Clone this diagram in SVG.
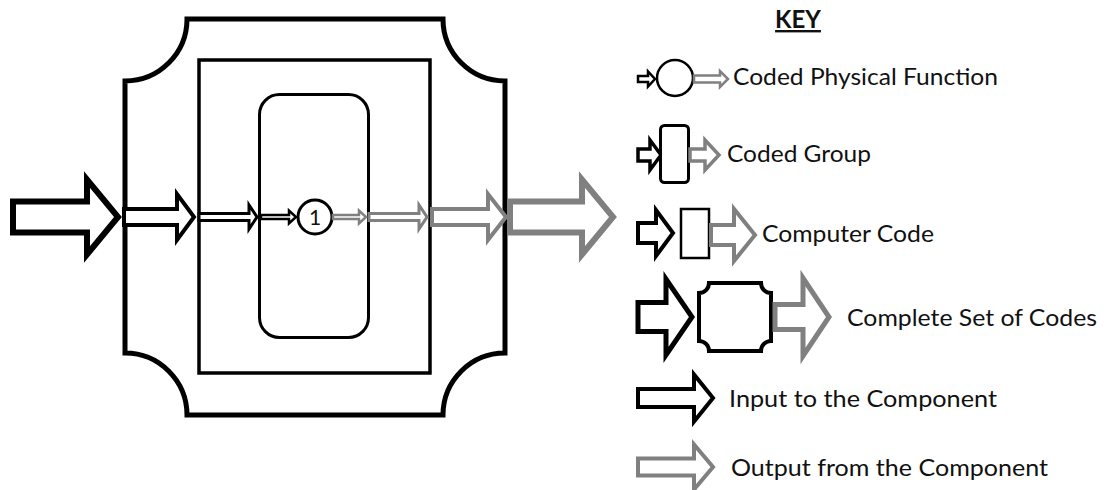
<svg xmlns="http://www.w3.org/2000/svg" width="1104" height="490" viewBox="0 0 1104 490">
  <style>
    .frame { fill: none; stroke: #000; stroke-linejoin: miter; }
    .in { fill: #fff; stroke: #000; stroke-linejoin: miter; stroke-miterlimit: 10; }
    .out { fill: #fff; stroke: #808080; stroke-linejoin: miter; stroke-miterlimit: 10; }
    .label { font-family: Lato, "Liberation Sans", sans-serif; font-size: 23px; fill: #111; }
    .key { font-family: Lato, "Liberation Sans", sans-serif; font-size: 24px; font-weight: bold; fill: #111; text-decoration: underline; }
  </style>

  <!-- component diagram -->
  <g id="complete-set">
    <path class="frame" stroke-width="5" d="M187,19 H443 A62,62 0 0 0 505,81 V353 A62,62 0 0 0 443,415 H187 A62,62 0 0 0 125,353 V81 A62,62 0 0 0 187,19 Z"/>
  </g>
  <g id="computer-code">
    <rect class="frame" stroke-width="3.5" x="199" y="60" width="231" height="313"/>
  </g>
  <g id="coded-group">
    <rect class="frame" stroke-width="3" x="259.5" y="94.5" width="109" height="243" rx="20"/>
  </g>
  <g id="function-1">
    <circle cx="315" cy="217" r="17" fill="#fff" stroke="#000" stroke-width="3"/>
    <text x="315" y="224.5" text-anchor="middle" font-family="Lato, 'Liberation Sans', sans-serif" font-size="21" fill="#111">1</text>
  </g>

  <g id="connectors">
    <!-- inputs, narrowing inward -->
    <path class="in" stroke-width="6" d="M13,201.5 H87 V179.5 L118,217 L87,254.5 V232.5 H13 Z"/>
    <path class="in" stroke-width="4" d="M124,209 H177 V194 L194,217 L177,240 V225 H124 Z"/>
    <path class="in" stroke-width="3" d="M199,213.5 H249 V205 L257,217 L249,229 V220.5 H199 Z"/>
    <path class="in" stroke-width="2.5" d="M261,215 H289 V210.5 L296,217 L289,223.5 V219 H261 Z"/>
    <!-- outputs, widening outward -->
    <path class="out" stroke-width="2.5" d="M333,215 H359 V210.5 L366,217 L359,223.5 V219 H333 Z"/>
    <path class="out" stroke-width="3" d="M369,213.5 H419 V205 L427,217 L419,229 V220.5 H369 Z"/>
    <path class="out" stroke-width="4" d="M432,209 H488 V194 L506,217 L488,240 V225 H432 Z"/>
    <path class="out" stroke-width="6" d="M510,201.5 H582 V179.5 L613,217 L582,254.5 V232.5 H510 Z"/>
  </g>

  <!-- key -->
  <g id="key-title">
    <text class="key" x="798" y="28" text-anchor="middle">KEY</text>
  </g>

  <g id="key-function">
    <path class="in" stroke-width="2.5" d="M638,76 H648 V71.5 L655,79 L648,86.5 V82 H638 Z"/>
    <circle cx="675" cy="78" r="18" fill="#fff" stroke="#000" stroke-width="2.5"/>
    <path class="out" stroke-width="2.5" d="M694,75.5 H720 V71 L728,79 L720,87 V82.5 H694 Z"/>
    <text class="label" x="733" y="85" textLength="265" lengthAdjust="spacingAndGlyphs">Coded Physical Function</text>
  </g>

  <g id="key-group">
    <path class="in" stroke-width="3.5" d="M638,149 H650 V140 L661,155 L650,170 V161 H638 Z"/>
    <rect x="660.5" y="125.5" width="28" height="57" rx="4" fill="#fff" stroke="#000" stroke-width="3"/>
    <path class="out" stroke-width="3.5" d="M690,149 H705 V140 L719,155 L705,170 V161 H690 Z"/>
    <text class="label" x="727" y="162" textLength="144" lengthAdjust="spacingAndGlyphs">Coded Group</text>
  </g>

  <g id="key-code">
    <path class="in" stroke-width="4" d="M638,223 H656 V210 L673,233 L656,256 V243 H638 Z"/>
    <rect x="681" y="209" width="28" height="49" fill="#fff" stroke="#000" stroke-width="2.5"/>
    <path class="out" stroke-width="4" d="M711,225 H734 V209 L755,235 L734,261 V245 H711 Z"/>
    <text class="label" x="762" y="242" textLength="172" lengthAdjust="spacingAndGlyphs">Computer Code</text>
  </g>

  <g id="key-complete">
    <path class="in" stroke-width="5" d="M638,302.5 H666 V279 L692,317 L666,355 V331.5 H638 Z"/>
    <path fill="#fff" stroke="#000" stroke-width="4" d="M709,283 H761 A10,10 0 0 0 771,293 V341 A10,10 0 0 0 761,351 H709 A10,10 0 0 0 699,341 V293 A10,10 0 0 0 709,283 Z"/>
    <path class="out" stroke-width="5" d="M775,304.5 H803 V278 L829,317 L803,356 V329.5 H775 Z"/>
    <text class="label" x="847" y="326" textLength="250" lengthAdjust="spacingAndGlyphs">Complete Set of Codes</text>
  </g>

  <g id="key-input">
    <path class="in" stroke-width="4" d="M638,389 H694 V374.5 L713,398 L694,421.5 V407 H638 Z"/>
    <text class="label" x="729" y="407" textLength="268" lengthAdjust="spacingAndGlyphs">Input to the Component</text>
  </g>

  <g id="key-output">
    <path class="out" stroke-width="4" d="M638,458.5 H694 V444.5 L713,467 L694,489.5 V475.5 H638 Z"/>
    <text class="label" x="731" y="476" textLength="317" lengthAdjust="spacingAndGlyphs">Output from the Component</text>
  </g>
</svg>
